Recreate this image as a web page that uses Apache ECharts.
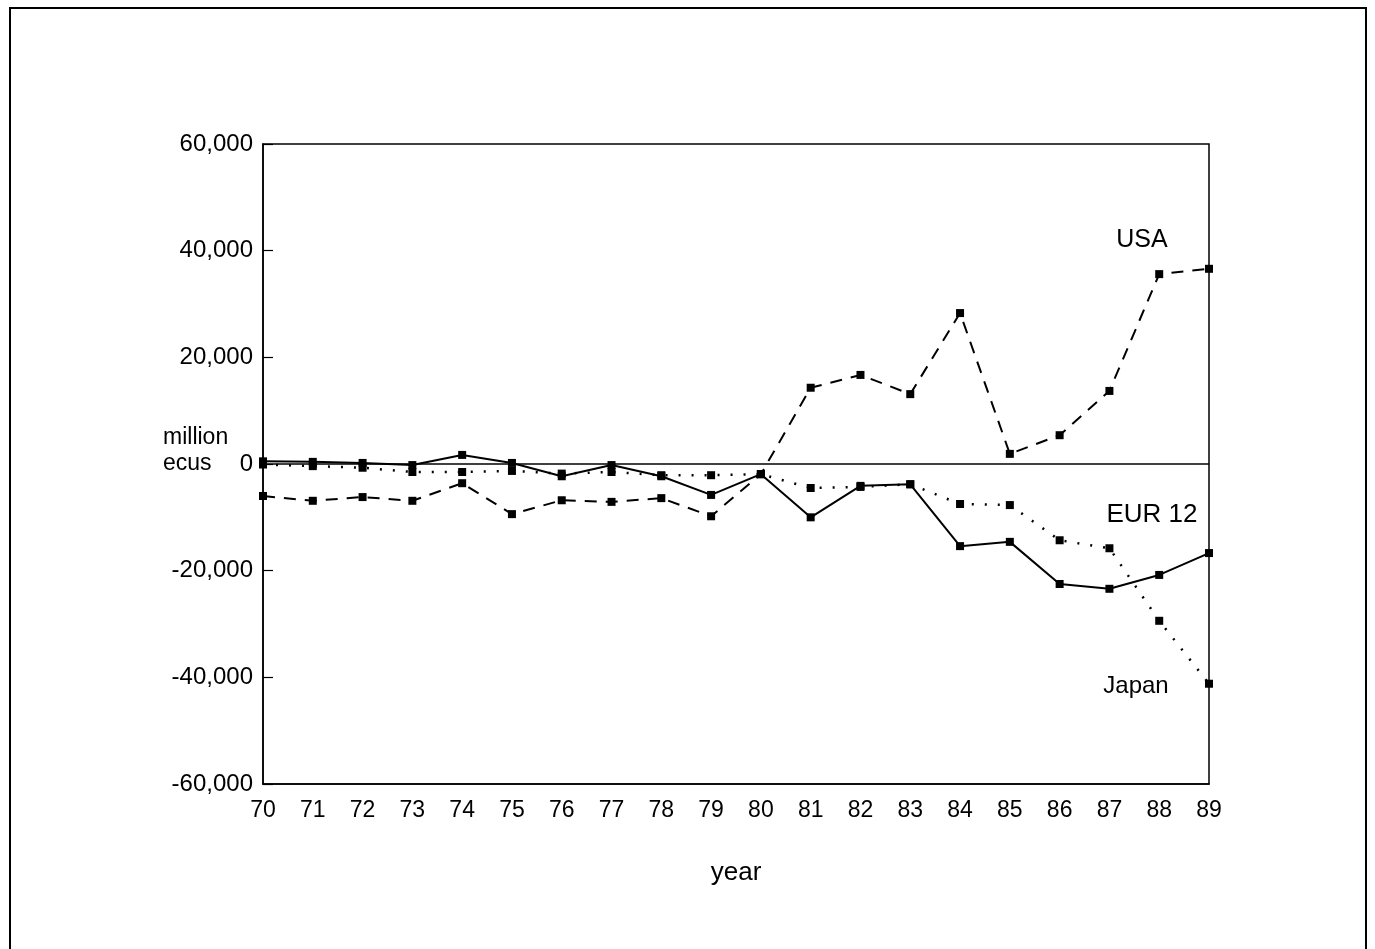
<!DOCTYPE html>
<html>
<head>
<meta charset="utf-8">
<script src="https://cdn.jsdelivr.net/npm/echarts@6/dist/echarts.min.js"></script>
<style>
html,body{margin:0;padding:0;background:#fff;}
#chart{width:1375px;height:949px;}
</style>
</head>
<body>
<div id="chart"></div>
<script>
var years = ['70','71','72','73','74','75','76','77','78','79','80','81','82','83','84','85','86','87','88','89'];
var eur12 = [500, 400, 200, -200, 1700, 200, -2300, -200, -2300, -5800, -1900, -10000, -4100, -3800, -15400, -14600, -22500, -23400, -20800, -16700];
var usa = [-6000, -6900, -6200, -6900, -3600, -9400, -6800, -7100, -6400, -9800, -1900, 14300, 16700, 13100, 28300, 1900, 5400, 13700, 35600, 36600];
var japan = [-100, -400, -700, -1500, -1500, -1300, -1800, -1500, -2100, -2100, -1900, -4500, -4300, -3800, -7500, -7700, -14300, -15800, -29400, -41200];
var yTicks = [-60000, -40000, -20000, 0, 20000, 40000, 60000];

var FONT = 'Liberation Sans';
var chart = echarts.init(document.getElementById('chart'), null, {renderer: 'canvas'});

function fmt(v) {
  var s = Math.abs(v).toString().replace(/\B(?=(\d{3})+(?!\d))/g, ',');
  return (v < 0 ? '-' : '') + s;
}

var baseSeries = {
  type: 'line',
  symbol: 'rect',
  symbolSize: 8,
  itemStyle: {color: '#000'},
  animation: false
};

var option = {
  backgroundColor: '#fff',
  animation: false,
  grid: {left: 263, top: 144, width: 946, height: 640, show: true, borderColor: '#000', borderWidth: 1.5},
  xAxis: {
    type: 'category',
    data: years,
    boundaryGap: false,
    axisLine: {onZero: false, lineStyle: {color: '#000', width: 1.5}},
    axisTick: {show: false},
    axisLabel: {color: '#000', fontSize: 23, fontFamily: FONT, margin: 15},
    name: 'year',
    nameLocation: 'middle',
    nameGap: 76,
    nameTextStyle: {color: '#000', fontSize: 26, fontFamily: FONT},
    splitLine: {show: false}
  },
  yAxis: {
    type: 'value',
    min: yTicks[0],
    max: yTicks[yTicks.length - 1],
    interval: 20000,
    axisLine: {show: true, lineStyle: {color: '#000', width: 1.5}},
    axisTick: {show: true, inside: true, length: 10, lineStyle: {color: '#000', width: 1.2}},
    axisLabel: {color: '#000', fontSize: 24, fontFamily: FONT, margin: 10, formatter: fmt},
    splitLine: {show: false}
  },
  series: [
    Object.assign({}, baseSeries, {
      name: 'EUR 12',
      data: eur12,
      lineStyle: {color: '#000', width: 2, type: 'solid'},
      markLine: {
        silent: true,
        symbol: ['none', 'none'],
        label: {show: false},
        lineStyle: {color: '#000', width: 1.5, type: 'solid'},
        data: [{yAxis: 0}]
      }
    }),
    Object.assign({}, baseSeries, {
      name: 'USA',
      data: usa,
      lineStyle: {color: '#000', width: 2, type: [12, 9]}
    }),
    Object.assign({}, baseSeries, {
      name: 'Japan',
      data: japan,
      lineStyle: {color: '#000', width: 2.5, type: [2, 11]}
    })
  ],
  graphic: [
    {type: 'rect', shape: {x: 10, y: 8, width: 1356, height: 960}, style: {fill: 'none', stroke: '#000', lineWidth: 2}, silent: true},
    {type: 'text', left: 163, top: 426, style: {text: 'million', fontSize: 23, fontFamily: FONT, fill: '#000'}},
    {type: 'text', left: 163, top: 452, style: {text: 'ecus', fontSize: 23, fontFamily: FONT, fill: '#000'}},
    {type: 'text', x: 1142, y: 240, style: {text: 'USA', fontSize: 25, fontFamily: FONT, fill: '#000', align: 'center', verticalAlign: 'middle'}},
    {type: 'text', x: 1152, y: 515, style: {text: 'EUR 12', fontSize: 26, fontFamily: FONT, fill: '#000', align: 'center', verticalAlign: 'middle'}},
    {type: 'text', x: 1136, y: 686, style: {text: 'Japan', fontSize: 24, fontFamily: FONT, fill: '#000', align: 'center', verticalAlign: 'middle'}}
  ]
};
chart.setOption(option);
</script>
</body>
</html>
